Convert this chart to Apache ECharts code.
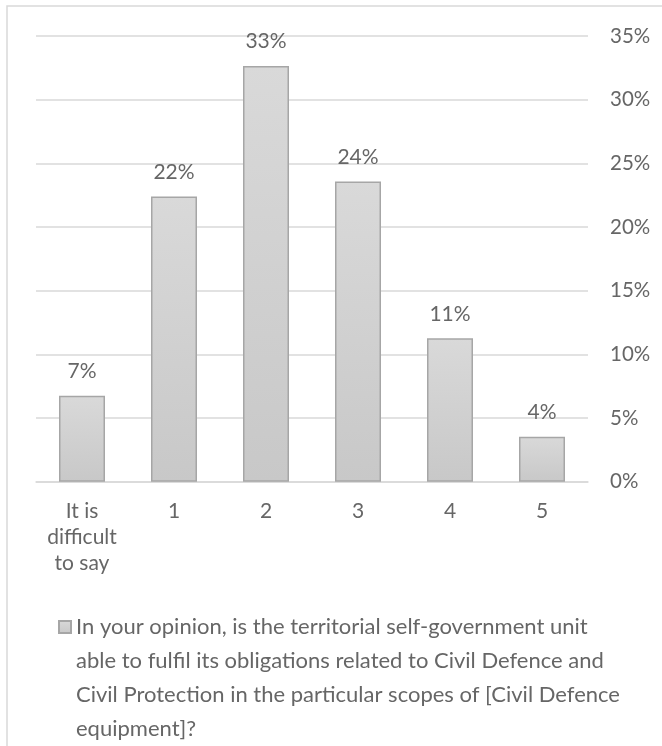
<!DOCTYPE html>
<html>
<head>
<meta charset="utf-8">
<script src="https://cdn.jsdelivr.net/npm/echarts@6/dist/echarts.min.js"></script>
<style>
  html, body { margin: 0; padding: 0; background: #ffffff; }
  #chart { width: 662px; height: 746px; }
</style>
</head>
<body>
<div id="chart"></div>
<script>
// Survey answers (rating scale) and share of respondents, in percent
const categories = ['It is\ndifficult\nto say', '1', '2', '3', '4', '5'];
const shares = [6.75, 22.4, 32.65, 23.57, 11.26, 3.53];
const yTicks = [0, 5, 10, 15, 20, 25, 30, 35];
const seriesName = 'In your opinion, is the territorial self-government unit\n' +
  'able to fulfil its obligations related to Civil Defence and\n' +
  'Civil Protection in the particular scopes of [Civil Defence\n' +
  'equipment]?';

const FONT = 'Lato';
const TEXT = '#666666';
const LINE = '#d9d9d9';

const LEGEND_LINE = 34;
const LEGEND_FIRST_ROW = 627;   // vertical centre of the first legend row

const chart = echarts.init(document.getElementById('chart'), null, { renderer: 'canvas' });

chart.setOption({
  animation: false,
  backgroundColor: '#ffffff',
  textStyle: { fontFamily: FONT },
  graphic: [{
    // chart area frame
    type: 'rect',
    silent: true,
    shape: { x: 7, y: 6, width: 700, height: 800 },
    style: { fill: 'none', stroke: LINE, lineWidth: 1.5 }
  }],
  grid: { left: 36, right: 74, top: 36, bottom: 264.3 },
  xAxis: {
    type: 'category',
    data: categories,
    axisLine: { show: true, lineStyle: { color: LINE, width: 1.5 } },
    axisTick: { show: false },
    axisLabel: {
      color: TEXT, fontFamily: FONT, fontSize: 21, lineHeight: 26,
      margin: 17, interval: 0
    }
  },
  yAxis: {
    type: 'value',
    position: 'right',
    min: yTicks[0],
    max: yTicks[yTicks.length - 1],
    interval: yTicks[1] - yTicks[0],
    axisLine: { show: false },
    axisTick: { show: false },
    splitLine: { lineStyle: { color: LINE, width: 1.5 } },
    axisLabel: {
      color: TEXT, fontFamily: FONT, fontSize: 20.5, margin: 22, align: 'left',
      formatter: v => v + '%'
    }
  },
  legend: {
    data: [seriesName],
    left: 58,
    // blank rows are added above the text, so the block is centred on the marker
    top: LEGEND_FIRST_ROW - 3.5 * LEGEND_LINE,
    padding: 0,
    icon: 'rect',
    itemWidth: 12,
    itemHeight: 12,
    selectedMode: false,
    formatter: name => '\n\n\n' + name,
    textStyle: { color: TEXT, fontFamily: FONT, fontSize: 22, lineHeight: LEGEND_LINE }
  },
  series: [{
    name: seriesName,
    type: 'bar',
    data: shares,
    barWidth: 46,
    itemStyle: {
      color: new echarts.graphic.LinearGradient(0, 0, 0, 1, [
        { offset: 0, color: '#d9d9d9' },
        { offset: 1, color: '#c8c8c8' }
      ]),
      borderColor: '#a6a6a6',
      borderWidth: 1.5
    },
    label: {
      show: true,
      position: 'top',
      distance: 14,
      color: TEXT,
      fontFamily: FONT,
      fontSize: 21,
      formatter: p => Math.round(p.value) + '%'
    }
  }]
});
</script>
</body>
</html>
